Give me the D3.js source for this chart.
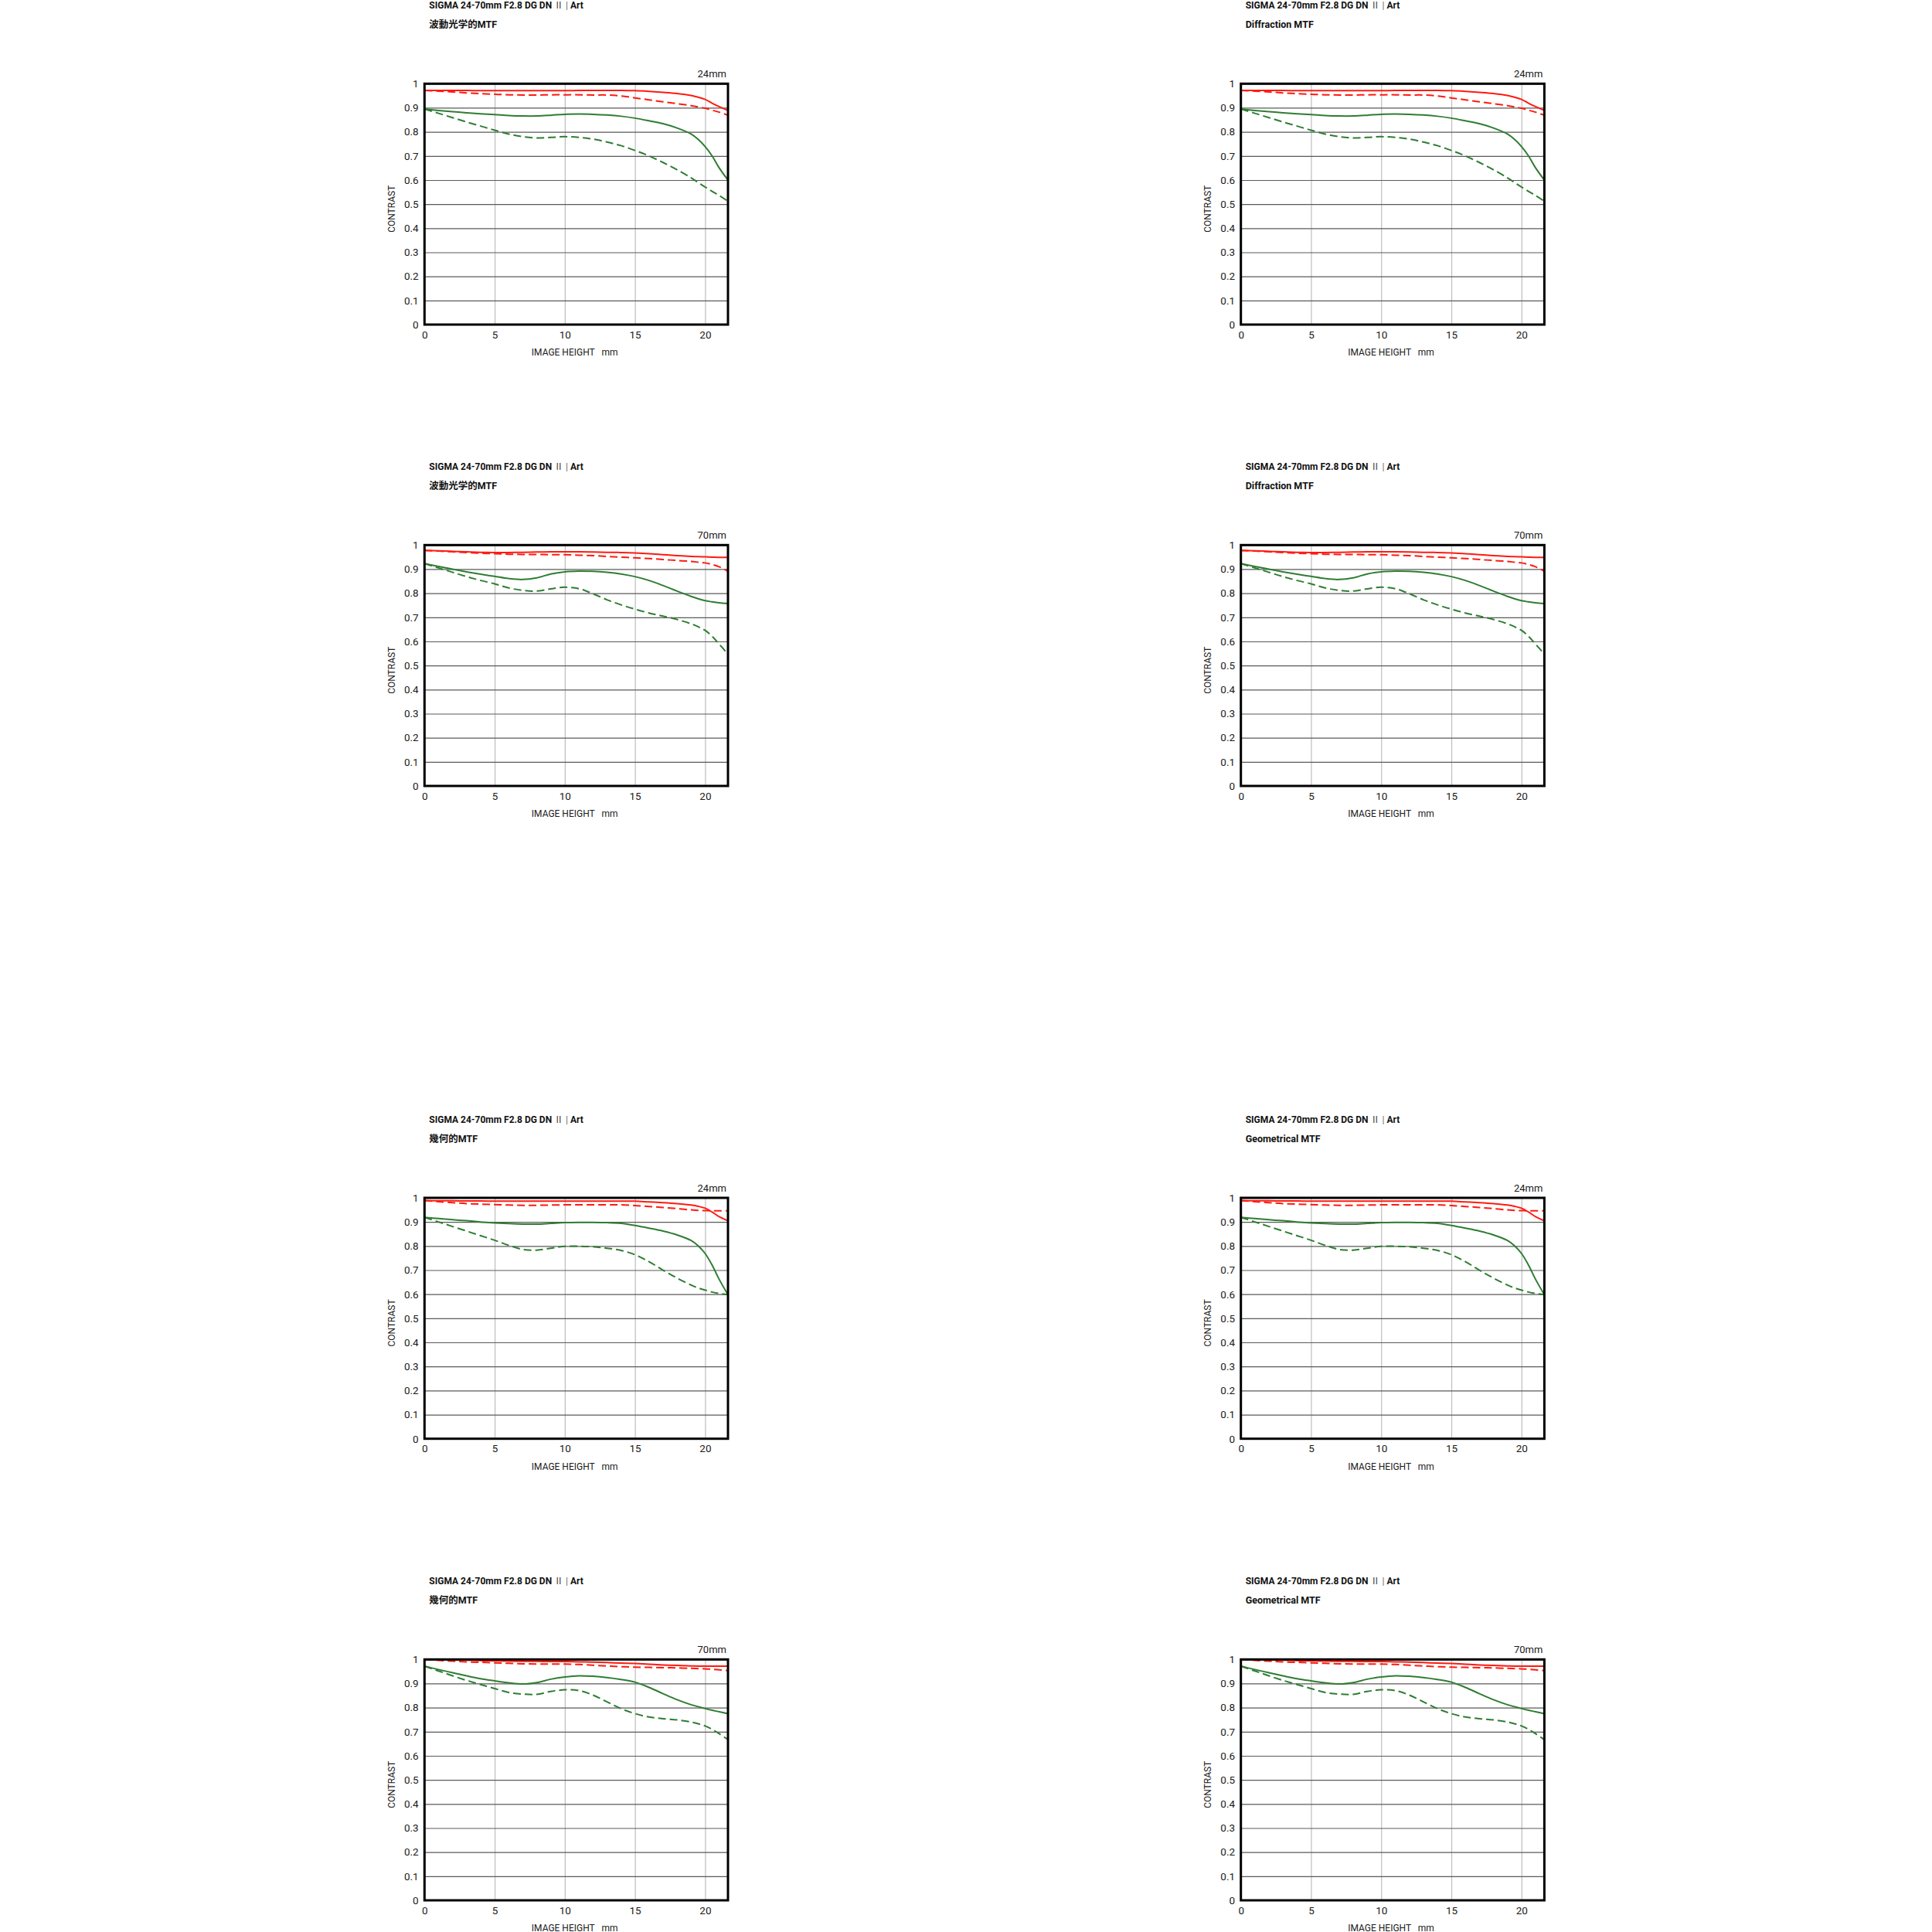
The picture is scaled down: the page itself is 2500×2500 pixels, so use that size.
<!DOCTYPE html>
<html>
<head>
<meta charset="utf-8">
<script src="https://cdn.jsdelivr.net/npm/d3@7"></script>
<style>
body { margin: 0; background: #fff; }
svg { display: block; }
text { font-family: Roboto, "Noto Sans CJK JP", sans-serif; fill: #111; }
.title { font-size: 12px; font-weight: bold; }
.title .roman { font-family: "Noto Sans CJK JP", serif; font-weight: normal; fill: #444; }
.title .bar { font-weight: normal; fill: #666; }
.subtitle { font-size: 12.5px; font-weight: bold; }
.axis text { font-size: 13.5px; fill: #1a1a1a; font-family: Roboto, sans-serif; }
.axisLabel { font-size: 12px; fill: #1a1a1a; }
.focal { font-size: 13px; fill: #1a1a1a; }
</style>
</head>
<body>
<div id="main"></div>
<script>
// image height samples (mm) shared by every curve
const imageHeight = [0,1,2,3,4,5,6,7,8,9,10,11,12,13,14,15,16,17,18,19,19.5,20,20.5,21,21.63];

const yTicks = [0,0.1,0.2,0.3,0.4,0.5,0.6,0.7,0.8,0.9,1];
const yTickLabels = ["0","0.1","0.2","0.3","0.4","0.5","0.6","0.7","0.8","0.9","1"];
const xTicks = [0,5,10,15,20];

// wave optics / diffraction, 24mm
const wave24_s10 = [.972,.972,.972,.972,.971,.971,.971,.971,.971,.971,.971,.972,.972,.972,.972,.971,.968,.964,.959,.951,.944,.935,.919,.905,.889];
const wave24_m10 = [.972,.969,.966,.962,.959,.956,.954,.953,.953,.954,.954,.954,.953,.953,.949,.941,.933,.925,.917,.909,.904,.898,.890,.882,.869];
const wave24_s30 = [.895,.889,.884,.879,.875,.872,.868,.866,.866,.869,.873,.874,.873,.870,.865,.857,.846,.834,.816,.791,.769,.739,.700,.651,.600];
const wave24_m30 = [.895,.877,.859,.841,.824,.807,.791,.780,.775,.777,.780,.777,.770,.758,.743,.723,.700,.673,.643,.609,.590,.571,.553,.536,.512];

// wave optics / diffraction, 70mm
const wave70_s10 = [.978,.976,.974,.972,.970,.969,.969,.970,.971,.972,.972,.972,.971,.970,.969,.967,.964,.960,.956,.953,.952,.951,.950,.949,.949];
const wave70_m10 = [.978,.975,.972,.969,.966,.964,.962,.961,.961,.960,.960,.958,.956,.953,.950,.947,.944,.940,.936,.932,.929,.926,.919,.910,.891];
const wave70_s30 = [.923,.911,.900,.889,.879,.870,.861,.857,.864,.880,.889,.892,.891,.887,.880,.869,.853,.832,.809,.787,.777,.769,.764,.760,.757];
const wave70_m30 = [.923,.905,.887,.869,.853,.839,.822,.812,.809,.818,.825,.819,.798,.773,.752,.734,.718,.705,.691,.673,.661,.646,.621,.589,.547];

// geometrical, 24mm
const geo24_s10 = [.989,.988,.988,.987,.987,.986,.986,.986,.986,.986,.986,.986,.986,.986,.986,.986,.983,.980,.976,.970,.965,.957,.941,.922,.905];
const geo24_m10 = [.989,.984,.980,.976,.974,.972,.970,.969,.969,.970,.971,.971,.971,.971,.971,.968,.964,.960,.955,.950,.948,.947,.946,.946,.946];
const geo24_s30 = [.919,.914,.909,.905,.900,.896,.893,.891,.891,.894,.897,.898,.898,.897,.894,.885,.874,.862,.846,.823,.801,.769,.721,.662,.598];
const geo24_m30 = [.919,.900,.881,.862,.843,.824,.803,.786,.783,.791,.799,.799,.797,.791,.782,.764,.735,.700,.667,.638,.626,.617,.609,.603,.598];

// geometrical, 70mm
const geo70_s10 = [1.0,.999,.998,.997,.995,.994,.993,.992,.992,.991,.991,.990,.989,.987,.985,.983,.980,.977,.975,.973,.972,.972,.972,.972,.972];
const geo70_m10 = [1.0,.996,.993,.990,.988,.986,.984,.982,.981,.981,.981,.979,.976,.973,.970,.968,.967,.966,.965,.963,.962,.961,.959,.957,.954];
const geo70_s30 = [.972,.958,.945,.932,.920,.911,.903,.898,.904,.918,.927,.932,.930,.925,.917,.906,.884,.858,.833,.812,.804,.796,.789,.783,.775];
const geo70_m30 = [.972,.952,.932,.913,.896,.879,.863,.856,.855,.867,.874,.871,.852,.824,.796,.775,.761,.754,.749,.740,.733,.724,.710,.692,.667];

const focalLabels = ["24mm","70mm","24mm","70mm"];
const subtitlesJa = ["波動光学的MTF","波動光学的MTF","幾何的MTF","幾何的MTF"];
const subtitlesEn = ["Diffraction MTF","Diffraction MTF","Geometrical MTF","Geometrical MTF"];
const rowSeries = [
  [wave24_s10, wave24_m10, wave24_s30, wave24_m30],
  [wave70_s10, wave70_m10, wave70_s30, wave70_m30],
  [geo24_s10, geo24_m10, geo24_s30, geo24_m30],
  [geo70_s10, geo70_m10, geo70_s30, geo70_m30]
];

// layout
const colLeft = [549.3, 1605.7];
const rowTop = [108.3, 705.3, 1550, 2147.3];
const W = 392.7, H = 311.7;

const red = "#ff1a10", green = "#2f7d32";
const lineStyles = [
  {color: red, dash: null},
  {color: red, dash: "10,5"},
  {color: green, dash: null},
  {color: green, dash: "10,5"}
];

const svg = d3.select("#main").append("svg").attr("width", 2500).attr("height", 2500);
svg.append("rect").attr("width", 2500).attr("height", 2500).attr("fill", "#fff");

const x = d3.scaleLinear().domain([0, 21.63]).range([0, W]);
const y = d3.scaleLinear().domain([0, 1]).range([H, 0]);

const line = d3.line()
  .x(d => x(d[0]))
  .y(d => y(d[1]))
  .curve(d3.curveCatmullRom.alpha(0.5));

function drawChart(px, py, subtitle, focal, series) {
  const g = svg.append("g").attr("transform", `translate(${px},${py})`);

  const t = g.append("text").attr("class", "title").attr("x", 6).attr("y", -97.3)
    .attr("xml:space", "preserve").style("white-space", "pre");
  t.append("tspan").text("SIGMA 24-70mm F2.8 DG DN ");
  t.append("tspan").attr("class", "roman").text("\u2161");
  t.append("tspan").attr("class", "bar").text(" | ");
  t.append("tspan").text("Art");

  g.append("text").attr("class", "subtitle").attr("x", 6).attr("y", -72.5).text(subtitle);
  g.append("text").attr("class", "focal").attr("x", W - 2).attr("y", -8.3)
    .attr("text-anchor", "end").text(focal);

  // vertical grid + x labels
  const xa = g.append("g").attr("class", "axis").attr("transform", `translate(0,${H})`)
    .call(d3.axisBottom(x).tickValues(xTicks).tickSizeInner(-H).tickSizeOuter(0).tickPadding(9).tickFormat(d => d));
  xa.select(".domain").remove();
  xa.selectAll("line").attr("stroke", "#bdbdbd").attr("stroke-width", 1.2);
  xa.selectAll("text").attr("dy", "0.71em").attr("y", 8);

  // horizontal grid + y labels
  const ya = g.append("g").attr("class", "axis")
    .call(d3.axisLeft(y).tickValues(yTicks).tickSizeInner(-W).tickSizeOuter(0).tickPadding(7.6)
      .tickFormat((d, i) => yTickLabels[i]));
  ya.select(".domain").remove();
  ya.selectAll("line").attr("stroke", "#5a5a5a").attr("stroke-width", 1.2);

  g.append("text").attr("class", "axisLabel").attr("x", W / 2 - 2).attr("y", H + 40.5)
    .attr("text-anchor", "middle").attr("xml:space", "preserve").style("white-space", "pre")
    .text("IMAGE HEIGHT   mm");
  g.append("text").attr("class", "axisLabel")
    .attr("transform", `translate(-38.3,162) rotate(-90)`)
    .attr("text-anchor", "middle").text("CONTRAST");

  series.forEach((vals, i) => {
    const pts = imageHeight.map((h, j) => [h, vals[j]]);
    g.append("path").datum(pts)
      .attr("d", line)
      .attr("fill", "none")
      .attr("stroke", lineStyles[i].color)
      .attr("stroke-width", 2)
      .attr("stroke-dasharray", lineStyles[i].dash);
  });

  g.append("rect").attr("x", 0).attr("y", 0).attr("width", W).attr("height", H)
    .attr("fill", "none").attr("stroke", "#000").attr("stroke-width", 3);
}

rowTop.forEach((py, r) => {
  drawChart(colLeft[0], py, subtitlesJa[r], focalLabels[r], rowSeries[r]);
  drawChart(colLeft[1], py, subtitlesEn[r], focalLabels[r], rowSeries[r]);
});
</script>
</body>
</html>
